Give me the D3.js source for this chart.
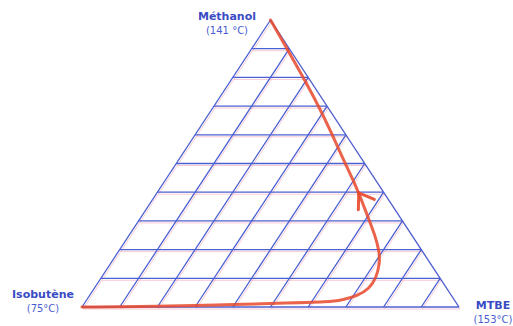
<!DOCTYPE html>
<html>
<head>
<meta charset="utf-8">
<script src="https://cdn.jsdelivr.net/npm/d3@7"></script>
<style>
  body { margin: 0; background: #fff; }
  svg { display: block; }
</style>
</head>
<body>
<svg id="chart" width="513" height="326"></svg>
<script>
// vertices of the diagram
const vertexNames = ['Méthanol', 'Isobutène', 'MTBE'];
const vertexTemps = ['(141 °C)', '(75°C)', '(153°C)'];

// number of divisions on each side
const divisions = 10;

// reaction path: methanol fraction / MTBE fraction
const pathMethanol = [1.00, 0.901, 0.802, 0.704, 0.605, 0.506, 0.454, 0.398, 0.303, 0.245, 0.193, 0.152, 0.100, 0.065, 0.038, 0.024, 0.018, 0.013, 0.007, 0.002, 0.0];
const pathMtbe     = [0.00, 0.093, 0.185, 0.274, 0.360, 0.443, 0.488, 0.535, 0.610, 0.656, 0.692, 0.714, 0.730, 0.730, 0.712, 0.676, 0.650, 0.520, 0.344, 0.206, 0.0];
const arrowIndex = 7; // arrow head sits on this point of the path

const svg = d3.select('#chart');

const x = d3.scaleLinear().domain([0, 1]).range([82, 459]);
const y = d3.scaleLinear().domain([0, 1]).range([307, 20]);

// ternary -> screen
function px(m, t) { return x(t + m / 2); }
function py(m, t) { return y(m); }

const blue = '#4a60d2';
const pink = '#f3a9b8';

const gridLines = [];
for (let k = 1; k < divisions; k++) {
  const f = k / divisions;
  // constant methanol (horizontal)
  gridLines.push([[f, 0], [f, 1 - f]]);
  // constant MTBE (parallel to left side)
  gridLines.push([[0, f], [1 - f, f]]);
}
const edges = [[[0, 0], [1, 0]], [[1, 0], [0, 1]], [[0, 0], [0, 1]]];

const seg = d3.line().x(d => px(d[0], d[1])).y(d => py(d[0], d[1]));

// faint pink fringe, like the scanned original
svg.append('g').attr('transform', 'translate(1,2)')
  .selectAll('path').data(gridLines.concat(edges)).join('path')
  .attr('d', seg).attr('fill', 'none')
  .attr('stroke', pink).attr('stroke-width', 1).attr('opacity', 0.6);

svg.append('g')
  .selectAll('path').data(gridLines.concat(edges)).join('path')
  .attr('d', seg).attr('fill', 'none')
  .attr('stroke', blue).attr('stroke-width', 1.3);

// red reaction path
const pathPts = pathMethanol.map((m, i) => [m, pathMtbe[i]]);
const curve = d3.line()
  .x(d => px(d[0], d[1])).y(d => py(d[0], d[1]))
  .curve(d3.curveBasis);

svg.append('path')
  .attr('d', curve(pathPts))
  .attr('fill', 'none')
  .attr('stroke', '#e8482a')
  .attr('stroke-width', 3)
  .attr('stroke-opacity', 0.85)
  .attr('stroke-linecap', 'round');

// arrow head pointing back up the path
const tip = pathPts[arrowIndex], next = pathPts[arrowIndex + 1];
const tx = px(tip[0], tip[1]), ty = py(tip[0], tip[1]);
const back = Math.atan2(py(next[0], next[1]) - ty, px(next[0], next[1]) - tx);
const arrowLen = 17, spread = 34 * Math.PI / 180, tilt = -12 * Math.PI / 180;
const barbs = [back + tilt + spread, back + tilt - spread].map(a => [tx + arrowLen * Math.cos(a), ty + arrowLen * Math.sin(a)]);
svg.append('path')
  .attr('d', d3.line()([barbs[0], [tx, ty], barbs[1]]))
  .attr('fill', 'none')
  .attr('stroke', '#e8482a')
  .attr('stroke-width', 3)
  .attr('stroke-opacity', 0.9)
  .attr('stroke-linecap', 'round')
  .attr('stroke-linejoin', 'round');

// vertex labels
const labelPos = [
  {x: 227, y: 20},
  {x: 43, y: 298},
  {x: 493, y: 309}
];
vertexNames.forEach((name, i) => {
  const g = svg.append('g').attr('text-anchor', 'middle');
  g.append('text')
    .attr('x', labelPos[i].x).attr('y', labelPos[i].y)
    .attr('font-family', 'DejaVu Sans, sans-serif')
    .attr('font-weight', 'bold').attr('font-size', 11)
    .attr('fill', '#3a4cc4')
    .text(name);
  g.append('text')
    .attr('x', labelPos[i].x).attr('y', labelPos[i].y + 14)
    .attr('font-family', 'DejaVu Sans, sans-serif')
    .attr('font-size', 10)
    .attr('fill', '#4a5cd0')
    .text(vertexTemps[i]);
});
</script>
</body>
</html>
